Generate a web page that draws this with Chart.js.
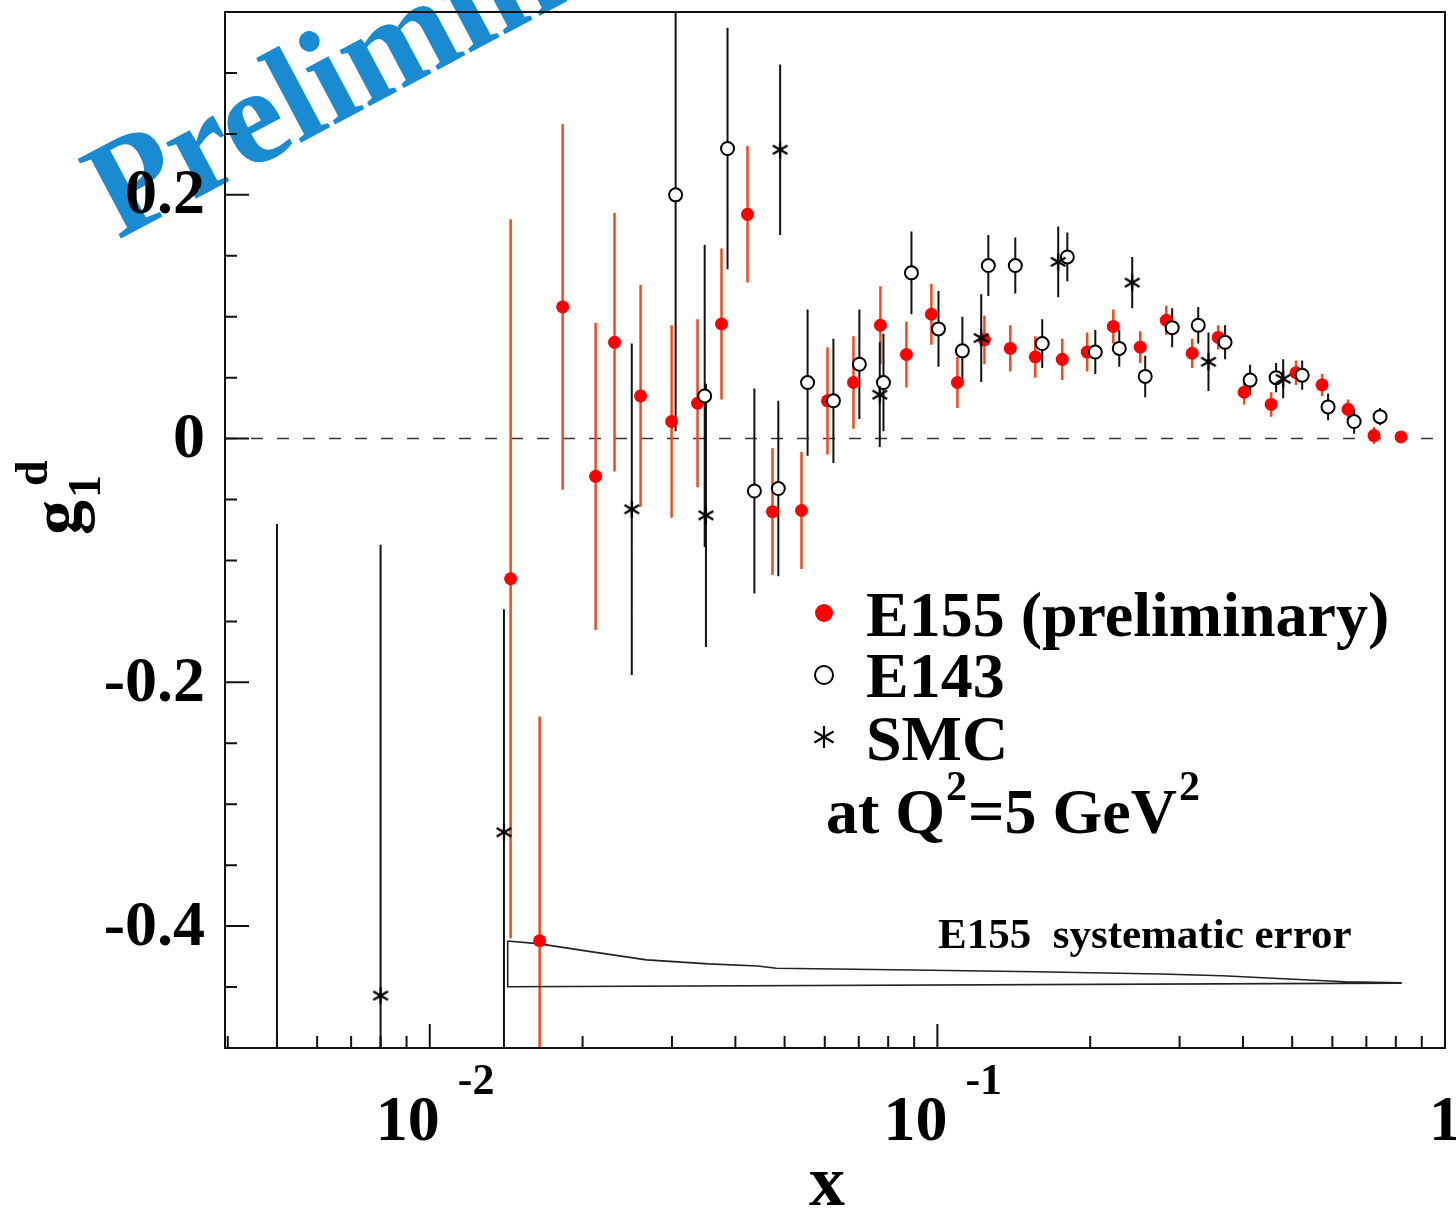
<!DOCTYPE html>
<html>
<head>
<meta charset="utf-8">
<title>g1d</title>
<script src="https://cdn.jsdelivr.net/npm/chart.js@4.4.1/dist/chart.umd.min.js"></script>
<style>
  html, body { margin: 0; padding: 0; background: #fff; }
  canvas { display: block; }
</style>
</head>
<body>
<canvas id="grafico" width="1456" height="1211"></canvas>
<script>
// E155 (preliminar): x, g1d y error estadistico
const xE155 = [0.01443, 0.01646, 0.01827, 0.02122, 0.02312, 0.02602, 0.02995, 0.03369, 0.03756, 0.04226,
  0.04733, 0.05399, 0.06074, 0.06834, 0.07722, 0.08689, 0.09732, 0.1095, 0.1238, 0.1392,
  0.1559, 0.1762, 0.1973, 0.2221, 0.2510, 0.2824, 0.3177, 0.3574, 0.4021, 0.4545,
  0.5088, 0.5726, 0.6442, 0.7247, 0.8192];
const gE155 = [-0.115, -0.412, 0.108, -0.031, 0.079, 0.035, 0.014, 0.029, 0.094, 0.184,
  -0.060, -0.059, 0.031, 0.046, 0.093, 0.069, 0.102, 0.046, 0.081, 0.074,
  0.067, 0.065, 0.071, 0.092, 0.075, 0.097, 0.070, 0.083, 0.038, 0.028,
  0.054, 0.044, 0.024, 0.0025, 0.0014];
const eE155 = [0.295, 0.184, 0.150, 0.126, 0.106, 0.091, 0.079, 0.069, 0.062, 0.056,
  0.052, 0.048, 0.044, 0.038, 0.032, 0.027, 0.025, 0.021, 0.020, 0.019,
  0.017, 0.017, 0.016, 0.014, 0.013, 0.012, 0.012, 0.010, 0.010, 0.010,
  0.010, 0.009, 0.008, 0.007, 0.003];

// E143
const xE143 = [0.0305, 0.0348, 0.0386, 0.0436, 0.0486, 0.0555, 0.0624, 0.0702, 0.0783, 0.0889,
  0.1005, 0.1120, 0.1260, 0.1424, 0.1609, 0.1803, 0.2047, 0.2282, 0.2567, 0.2901,
  0.3265, 0.3688, 0.4131, 0.4648, 0.5232, 0.5884, 0.6621, 0.7449];
const gE143 = [0.200, 0.035, 0.238, -0.043, -0.041, 0.046, 0.031, 0.061, 0.046, 0.136,
  0.090, 0.072, 0.142, 0.142, 0.078, 0.149, 0.071, 0.074, 0.051, 0.091,
  0.093, 0.079, 0.048, 0.050, 0.052, 0.026, 0.014, 0.018];
const eE143 = [0.194, 0.124, 0.099, 0.084, 0.072, 0.060, 0.051, 0.045, 0.040, 0.034,
  0.031, 0.028, 0.025, 0.023, 0.020, 0.020, 0.018, 0.015, 0.017, 0.016,
  0.015, 0.014, 0.0125, 0.012, 0.012, 0.011, 0.010, 0.007];

// SMC
const xSMC = [0.005, 0.008, 0.014, 0.025, 0.035, 0.049, 0.077, 0.122, 0.173, 0.242, 0.342, 0.480];
const gSMC = [-0.60, -0.457, -0.323, -0.058, -0.063, 0.237, 0.036, 0.0825, 0.145, 0.128, 0.063, 0.049];
const eSMC = [0.53, 0.37, 0.183, 0.136, 0.108, 0.070, 0.043, 0.036, 0.029, 0.021, 0.024, 0.016];

// banda del error sistematico de E155 (borde superior y base)
const xSys = [0.01424, 0.01646, 0.02074, 0.02674, 0.03541, 0.04422, 0.04819, 0.08928, 0.1566, 0.2748, 0.3639, 0.4799, 0.6356, 0.8192];
const sysHi = [-0.4122, -0.4146, -0.4209, -0.4277, -0.4310, -0.4327, -0.4346, -0.4360, -0.4374, -0.4393, -0.4407, -0.4432, -0.4456, -0.4464];
const sysLo = [-0.4497, -0.4468]; // extremo izquierdo y derecho

// etiquetas de los ejes
const yLabels = [0.2, 0, -0.2, -0.4];
const xLabels = [0.01, 0.1, 1];

const SERIF = '"Liberation Serif", "Times New Roman", serif';

const pares = (xs, ys) => xs.map((v, i) => ({ x: v, y: ys[i] }));

// asterisco de 6 brazos
function trazarAsterisco(c, cx, cy, r, lw) {
  c.save();
  c.strokeStyle = '#000';
  c.lineWidth = lw;
  c.beginPath();
  for (const ang of [90, 30, 150]) {
    const a = ang * Math.PI / 180;
    c.moveTo(cx - r * Math.cos(a), cy - r * Math.sin(a));
    c.lineTo(cx + r * Math.cos(a), cy + r * Math.sin(a));
  }
  c.stroke();
  c.restore();
}
const asterisco = document.createElement('canvas');
asterisco.width = 20;
asterisco.height = 20;
trazarAsterisco(asterisco.getContext('2d'), 10, 10, 8.5, 2.2);

// poligono de la banda sistematica
const banda = pares(xSys, sysHi);
banda.push({ x: xSys[xSys.length - 1], y: sysLo[1] });
banda.push({ x: xSys[0], y: sysLo[0] });
banda.push({ x: xSys[0], y: sysHi[0] });

// fondo blanco y marca de agua
const fondo = {
  id: 'fondo',
  beforeDraw(chart) {
    const { ctx } = chart;
    ctx.save();
    ctx.fillStyle = '#fff';
    ctx.fillRect(0, 0, chart.width, chart.height);
    ctx.translate(118, 240);
    ctx.rotate(-28 * Math.PI / 180);
    ctx.font = 'bold 138px ' + SERIF;
    ctx.fillStyle = '#1a8bd0';
    ctx.textBaseline = 'alphabetic';
    ctx.fillText('Preliminary', 0, 0);
    ctx.restore();
  }
};

// barras de error y linea en cero
const series = [
  { xs: xE155, gs: gE155, es: eE155, color: '#f24a1c', ancho: 2.5 },
  { xs: xE143, gs: gE143, es: eE143, color: '#111', ancho: 2 },
  { xs: xSMC, gs: gSMC, es: eSMC, color: '#111', ancho: 2 },
];
const barrasError = {
  id: 'barrasError',
  beforeDatasetsDraw(chart) {
    const { ctx, chartArea: a, scales: { x, y } } = chart;
    ctx.save();
    ctx.beginPath();
    ctx.rect(a.left, a.top, a.right - a.left, a.bottom - a.top);
    ctx.clip();

    const y0 = y.getPixelForValue(0);
    ctx.strokeStyle = '#333';
    ctx.lineWidth = 1.5;
    ctx.setLineDash([12, 14]);
    ctx.beginPath();
    ctx.moveTo(a.left, y0);
    ctx.lineTo(a.right, y0);
    ctx.stroke();
    ctx.setLineDash([]);

    series.forEach((s) => {
      ctx.strokeStyle = s.color;
      ctx.lineWidth = s.ancho;
      ctx.beginPath();
      s.xs.forEach((v, i) => {
        const px = x.getPixelForValue(v);
        ctx.moveTo(px, y.getPixelForValue(s.gs[i] + s.es[i]));
        ctx.lineTo(px, y.getPixelForValue(s.gs[i] - s.es[i]));
      });
      ctx.stroke();
    });
    ctx.restore();
  }
};

// marco, marcas, etiquetas y leyenda
const ejes = {
  id: 'ejes',
  afterDraw(chart) {
    const { ctx, chartArea: a, scales: { x, y } } = chart;
    ctx.save();
    ctx.strokeStyle = '#111';
    ctx.lineWidth = 2;
    ctx.strokeRect(a.left, a.top, a.right - a.left, a.bottom - a.top);

    ctx.beginPath();
    for (let k = -10; k <= 7; k++) {
      const py = y.getPixelForValue(k * 0.05);
      const largo = k % 4 === 0 ? 24 : 12;
      ctx.moveTo(a.left, py);
      ctx.lineTo(a.left + largo, py);
    }
    for (let d = -3; d <= -1; d++) {
      for (let m = 1; m <= 9; m++) {
        const v = m * Math.pow(10, d);
        if (v < x.min || v > x.max) continue;
        const px = x.getPixelForValue(v);
        ctx.moveTo(px, a.bottom);
        ctx.lineTo(px, a.bottom - (m === 1 ? 24 : 12));
      }
    }
    ctx.stroke();

    ctx.fillStyle = '#000';
    ctx.font = 'bold 64px ' + SERIF;
    ctx.textAlign = 'right';
    ctx.textBaseline = 'middle';
    yLabels.forEach((v) => {
      ctx.fillText(String(v), a.left - 20, y.getPixelForValue(v) + 2);
    });

    ctx.textBaseline = 'alphabetic';
    xLabels.forEach((v) => {
      const px = x.getPixelForValue(v);
      const exp = Math.round(Math.log10(v));
      if (exp === 0) {
        ctx.textAlign = 'center';
        ctx.font = 'bold 64px ' + SERIF;
        ctx.fillText('1', px, 1140);
      } else {
        ctx.textAlign = 'right';
        ctx.font = 'bold 64px ' + SERIF;
        ctx.fillText('10', px + 10, 1140);
        ctx.textAlign = 'left';
        ctx.font = 'bold 44px ' + SERIF;
        ctx.fillText(String(exp), px + 28, 1094);
      }
    });

    // titulo eje x
    ctx.textAlign = 'center';
    ctx.font = 'bold 72px ' + SERIF;
    ctx.fillText('x', 827, 1205);

    // titulo eje y: g con subindice 1 y superindice d
    ctx.save();
    ctx.translate(80, 535);
    ctx.rotate(-Math.PI / 2);
    ctx.textAlign = 'left';
    ctx.font = 'bold 70px ' + SERIF;
    ctx.fillText('g', 0, 0);
    ctx.font = 'bold 46px ' + SERIF;
    ctx.fillText('1', 37, 20);
    ctx.fillText('d', 49, -33);
    ctx.restore();

    // leyenda
    ctx.fillStyle = '#f00';
    ctx.beginPath();
    ctx.arc(824, 613, 9, 0, Math.PI * 2);
    ctx.fill();
    ctx.fillStyle = '#fff';
    ctx.strokeStyle = '#000';
    ctx.lineWidth = 2;
    ctx.beginPath();
    ctx.arc(824, 675, 9, 0, Math.PI * 2);
    ctx.fill();
    ctx.stroke();
    trazarAsterisco(ctx, 824, 737, 11, 2.2);

    ctx.fillStyle = '#000';
    ctx.textAlign = 'left';
    ctx.font = 'bold 64px ' + SERIF;
    ctx.fillText('E155 (preliminary)', 866, 636);
    ctx.fillText('E143', 866, 697);
    ctx.fillText('SMC', 866, 760);

    let xx = 826;
    const grande = 'bold 64px ' + SERIF;
    const chico = 'bold 42px ' + SERIF;
    ctx.font = grande;
    ctx.fillText('at Q', xx, 833);
    xx += ctx.measureText('at Q').width + 1;
    ctx.font = chico;
    ctx.fillText('2', xx, 800);
    xx += ctx.measureText('2').width + 1;
    ctx.font = grande;
    ctx.fillText('=5 GeV', xx, 833);
    xx += ctx.measureText('=5 GeV').width + 2;
    ctx.font = chico;
    ctx.fillText('2', xx, 800);

    ctx.font = 'bold 43px ' + SERIF;
    ctx.fillText('E155  systematic error', 938, 948);
    ctx.restore();
  }
};

const ctx = document.querySelector('#grafico');
const grafica = new Chart(ctx, {
  type: 'scatter',
  data: {
    datasets: [
      {
        label: 'SMC',
        data: pares(xSMC, gSMC),
        pointStyle: asterisco,
        pointRadius: 10,
        order: 0,
      },
      {
        label: 'E143',
        data: pares(xE143, gE143),
        pointStyle: 'circle',
        pointRadius: 6.5,
        backgroundColor: '#fff',
        borderColor: '#000',
        borderWidth: 2,
        order: 1,
      },
      {
        label: 'E155 (preliminary)',
        data: pares(xE155, gE155),
        pointStyle: 'circle',
        pointRadius: 6.5,
        backgroundColor: '#ff0000',
        borderWidth: 0,
        order: 2,
      },
      {
        label: 'E155 systematic error',
        data: banda,
        showLine: true,
        borderColor: '#222',
        borderWidth: 1.6,
        pointRadius: 0,
        fill: false,
        order: 3,
      },
    ],
  },
  options: {
    responsive: false,
    animation: false,
    devicePixelRatio: 1,
    events: [],
    layout: { padding: { top: 12, right: 11, left: 0, bottom: 0 } },
    plugins: {
      legend: { display: false },
      tooltip: { enabled: false },
    },
    scales: {
      x: {
        type: 'logarithmic',
        min: 0.00395,
        max: 1,
        grid: { display: false },
        border: { display: false },
        ticks: { display: false },
        afterFit(s) { s.height = 163; },
      },
      y: {
        type: 'linear',
        min: -0.5,
        max: 0.35,
        grid: { display: false },
        border: { display: false },
        ticks: { display: false },
        afterFit(s) { s.width = 225; },
      },
    },
  },
  plugins: [fondo, barrasError, ejes],
});
</script>
</body>
</html>
